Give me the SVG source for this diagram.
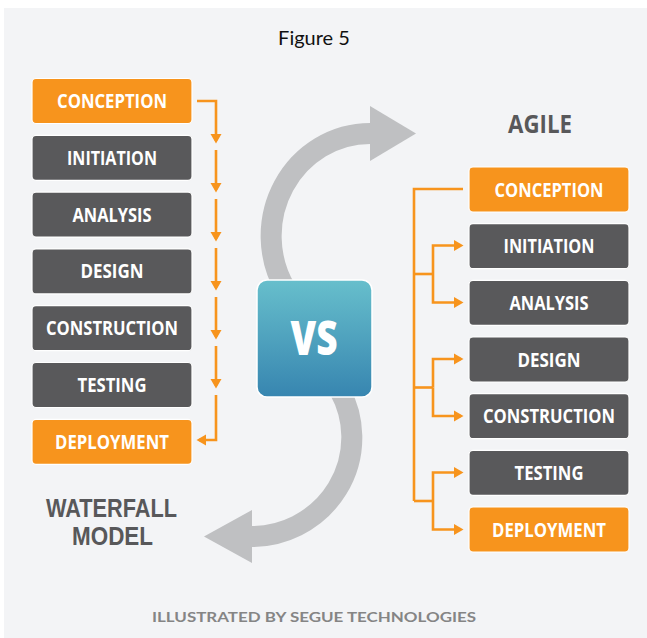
<svg xmlns="http://www.w3.org/2000/svg" width="647" height="638" viewBox="0 0 647 638">
  <defs>
    <marker id="tip" markerUnits="userSpaceOnUse" markerWidth="10" markerHeight="12" viewBox="0 0 10 12" refX="7" refY="6" orient="auto">
      <path d="M0,0.5 L9.5,6 L0,11.5 z" fill="#f7941d"/>
    </marker>
    <linearGradient id="vsFill" x1="0" y1="0" x2="0" y2="1">
      <stop offset="0" stop-color="#67bfcc"/>
      <stop offset="1" stop-color="#3785b0"/>
    </linearGradient>
    <style>
      .box rect { stroke: #ffffff; stroke-width: 1.2; }
      .dark rect { fill: #59595b; }
      .orange rect { fill: #f7941d; }
      .box text { font-family: "Open Sans", "Liberation Sans", sans-serif; font-weight: 700; font-size: 19px; fill: #ffffff; text-anchor: middle; }
      .flow { fill: none; stroke: #f7941d; stroke-width: 2.6; }
      .heading { font-family: "Open Sans", "Liberation Sans", sans-serif; font-weight: 700; fill: #58585a; text-anchor: middle; }
      .model { font-family: "Liberation Sans", Arial, sans-serif; font-weight: 700; font-size: 25px; fill: #58585a; text-anchor: middle; }
      .sweep { fill: none; stroke: #bfc0c2; stroke-width: 21; }
    </style>
  </defs>

  <!-- page and panel -->
  <rect x="0" y="0" width="647" height="638" fill="#ffffff"/>
  <rect x="4" y="8" width="643" height="630" fill="#f3f4f6"/>

  <text x="314" y="45" font-family="Lato, 'Open Sans', sans-serif" font-size="20" fill="#111111" text-anchor="middle">Figure 5</text>

  <!-- curved sweep arrows -->
  <g id="sweep-arrows">
    <path class="sweep" d="M286 290 A99 102.5 0 0 1 371 133.5"/>
    <polygon points="370,106 416,133.5 370,161" fill="#bfc0c2"/>
    <path class="sweep" d="M339.5 390 A100.5 99 0 0 1 250 536.5"/>
    <polygon points="252,510 204,536.5 252,563" fill="#bfc0c2"/>
  </g>

  <!-- connectors -->
  <g id="connectors">
    <!-- waterfall chain -->
    <polyline class="flow" points="197,101 216,101 216,141" marker-end="url(#tip)"/>
    <line class="flow" x1="216" y1="150" x2="216" y2="190" marker-end="url(#tip)"/>
    <line class="flow" x1="216" y1="199" x2="216" y2="239" marker-end="url(#tip)"/>
    <line class="flow" x1="216" y1="248" x2="216" y2="288" marker-end="url(#tip)"/>
    <line class="flow" x1="216" y1="297" x2="216" y2="337" marker-end="url(#tip)"/>
    <line class="flow" x1="216" y1="346" x2="216" y2="386" marker-end="url(#tip)"/>
    <polyline class="flow" points="216,395 216,440 199,440" marker-end="url(#tip)"/>

    <!-- agile tree -->
    <polyline class="flow" points="463,189 414,189 414,501"/>
    <line class="flow" x1="414" y1="274" x2="433" y2="274"/>
    <line class="flow" x1="414" y1="387.5" x2="433" y2="387.5"/>
    <line class="flow" x1="414" y1="501" x2="433" y2="501"/>
    <polyline class="flow" points="433,274 433,245.5 461,245.5" marker-end="url(#tip)"/>
    <polyline class="flow" points="433,274 433,302.5 461,302.5" marker-end="url(#tip)"/>
    <polyline class="flow" points="433,387.5 433,359 461,359" marker-end="url(#tip)"/>
    <polyline class="flow" points="433,387.5 433,416 461,416" marker-end="url(#tip)"/>
    <polyline class="flow" points="433,501 433,472.5 461,472.5" marker-end="url(#tip)"/>
    <polyline class="flow" points="433,501 433,529.5 461,529.5" marker-end="url(#tip)"/>
  </g>

  <!-- waterfall phases -->
  <g id="wf-conception" class="box orange"><rect x="32" y="78.5" width="160" height="45" rx="4"/><text x="112" y="108" textLength="110" lengthAdjust="spacingAndGlyphs">CONCEPTION</text></g>
  <g id="wf-initiation" class="box dark"><rect x="32" y="135.3" width="160" height="45" rx="4"/><text x="112" y="164.8" textLength="90" lengthAdjust="spacingAndGlyphs">INITIATION</text></g>
  <g id="wf-analysis" class="box dark"><rect x="32" y="192.1" width="160" height="45" rx="4"/><text x="112" y="221.6" textLength="79" lengthAdjust="spacingAndGlyphs">ANALYSIS</text></g>
  <g id="wf-design" class="box dark"><rect x="32" y="248.9" width="160" height="45" rx="4"/><text x="112" y="278.4" textLength="63" lengthAdjust="spacingAndGlyphs">DESIGN</text></g>
  <g id="wf-construction" class="box dark"><rect x="32" y="305.7" width="160" height="45" rx="4"/><text x="112" y="335.2" textLength="132" lengthAdjust="spacingAndGlyphs">CONSTRUCTION</text></g>
  <g id="wf-testing" class="box dark"><rect x="32" y="362.5" width="160" height="45" rx="4"/><text x="112" y="392" textLength="69" lengthAdjust="spacingAndGlyphs">TESTING</text></g>
  <g id="wf-deployment" class="box orange"><rect x="32" y="419.3" width="160" height="45" rx="4"/><text x="112" y="448.8" textLength="114" lengthAdjust="spacingAndGlyphs">DEPLOYMENT</text></g>

  <!-- agile phases -->
  <g id="ag-conception" class="box orange"><rect x="469" y="167" width="160" height="45" rx="4"/><text x="549" y="196.5" textLength="109" lengthAdjust="spacingAndGlyphs">CONCEPTION</text></g>
  <g id="ag-initiation" class="box dark"><rect x="469" y="223.7" width="160" height="45" rx="4"/><text x="549" y="253.2" textLength="91" lengthAdjust="spacingAndGlyphs">INITIATION</text></g>
  <g id="ag-analysis" class="box dark"><rect x="469" y="280.3" width="160" height="45" rx="4"/><text x="549" y="309.8" textLength="79" lengthAdjust="spacingAndGlyphs">ANALYSIS</text></g>
  <g id="ag-design" class="box dark"><rect x="469" y="337" width="160" height="45" rx="4"/><text x="549" y="366.5" textLength="63" lengthAdjust="spacingAndGlyphs">DESIGN</text></g>
  <g id="ag-construction" class="box dark"><rect x="469" y="393.7" width="160" height="45" rx="4"/><text x="549" y="423.2" textLength="132" lengthAdjust="spacingAndGlyphs">CONSTRUCTION</text></g>
  <g id="ag-testing" class="box dark"><rect x="469" y="450.3" width="160" height="45" rx="4"/><text x="549" y="479.8" textLength="69" lengthAdjust="spacingAndGlyphs">TESTING</text></g>
  <g id="ag-deployment" class="box orange"><rect x="469" y="507" width="160" height="45" rx="4"/><text x="549" y="536.5" textLength="114" lengthAdjust="spacingAndGlyphs">DEPLOYMENT</text></g>

  <!-- versus badge -->
  <g id="vs">
    <rect x="257" y="280" width="115" height="117" rx="10" fill="url(#vsFill)" stroke="#ffffff" stroke-width="1.5"/>
    <text x="314" y="355" font-family="'Open Sans', 'Liberation Sans', sans-serif" font-weight="800" font-size="48" fill="#ffffff" text-anchor="middle" textLength="47" lengthAdjust="spacingAndGlyphs">VS</text>
  </g>

  <!-- headings -->
  <g id="agile-title"><text class="heading" x="540" y="133" font-size="25" textLength="64" lengthAdjust="spacingAndGlyphs">AGILE</text></g>
  <g id="waterfall-title">
    <text class="model" x="111.5" y="517" textLength="131" lengthAdjust="spacingAndGlyphs">WATERFALL</text>
    <text class="model" x="112.5" y="545" textLength="81" lengthAdjust="spacingAndGlyphs">MODEL</text>
  </g>

  <text x="314" y="622" font-family="Lato, 'Open Sans', sans-serif" font-weight="700" font-size="13" fill="#858585" text-anchor="middle" textLength="324" lengthAdjust="spacingAndGlyphs">ILLUSTRATED BY SEGUE TECHNOLOGIES</text>
</svg>
